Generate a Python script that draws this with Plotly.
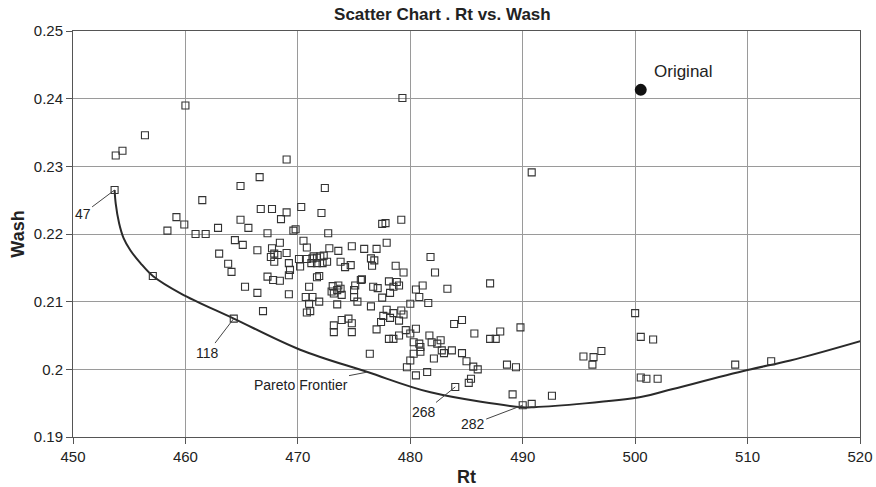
import plotly.graph_objects as go

# ---------------- data ----------------
rt = [453.7, 453.8, 454.4, 456.4, 460.0, 457.1, 458.4, 459.2, 459.9, 460.9,
      461.8, 461.5, 462.9, 463.0, 463.8, 464.1, 464.3, 464.9, 464.4, 465.1,
      464.9, 465.3, 465.6, 466.4, 466.6, 466.7, 467.7, 467.3, 466.4, 466.9,
      469.0, 468.5, 469.0, 467.7, 468.4, 467.9, 468.2, 467.6, 469.0, 467.9,
      469.2, 467.3, 467.8, 468.4, 469.2, 469.3, 469.8, 469.6, 470.3, 470.5,
      470.8, 470.1, 470.8, 470.2, 469.2, 471.3, 471.4, 471.7, 472.0, 472.3,
      471.2, 471.7, 472.2, 472.6, 472.4, 472.1, 472.7, 472.8, 473.6, 474.8,
      475.9, 477.0, 477.5, 477.8, 479.2, 477.9, 473.8, 474.7, 474.2, 476.5,
      476.8, 476.6, 478.7, 479.4, 481.8, 482.2, 471.7, 471.9, 475.7, 478.1,
      478.8, 478.5, 479.0, 480.5, 481.1, 483.3, 471.0, 473.1, 473.6, 473.8,
      473.5, 473.2, 473.0, 473.9, 475.1, 475.0, 475.6, 476.7, 477.1, 470.7,
      471.3, 471.0, 471.9, 471.1, 470.8, 473.5, 475.0, 475.3, 476.5, 477.5,
      478.2, 477.4, 477.6, 477.9, 478.5, 479.2, 479.4, 479.0, 478.2, 480.0,
      480.8, 481.6, 473.2, 473.9, 474.5, 474.8, 473.2, 474.8, 477.0, 478.1,
      478.5, 479.0, 479.6, 480.0, 480.5, 480.3, 480.8, 481.7, 481.9, 482.7,
      482.4, 482.8, 483.0, 480.9, 480.9, 483.9, 484.6, 485.7, 483.7, 484.6,
      485.0, 485.6, 486.0, 482.1, 480.3, 480.0, 479.7, 480.5, 476.4, 481.5,
      485.4, 485.2, 484.0, 488.6, 489.4, 489.1, 492.6, 490.0, 490.8, 487.1,
      487.1, 487.6, 488.0, 489.8, 490.8, 479.3, 500.0, 500.5, 501.6, 495.4,
      496.3, 497.0, 496.2, 500.5, 501.0, 502.0, 508.9, 512.1]
wash = [0.2265, 0.2316, 0.2323, 0.2346, 0.2390, 0.2138, 0.2205, 0.2225, 0.2214, 0.2200,
        0.2200, 0.2250, 0.2209, 0.2171, 0.2156, 0.2144, 0.2075, 0.2221, 0.2191, 0.2184,
        0.2271, 0.2122, 0.2209, 0.2176, 0.2284, 0.2237, 0.2237, 0.2201, 0.2113, 0.2086,
        0.2232, 0.2222, 0.2310, 0.2179, 0.2187, 0.2171, 0.2169, 0.2166, 0.2172, 0.2159,
        0.2157, 0.2137, 0.2132, 0.2131, 0.2139, 0.2147, 0.2207, 0.2205, 0.2240, 0.2190,
        0.2180, 0.2163, 0.2163, 0.2152, 0.2111, 0.2164, 0.2167, 0.2165, 0.2167, 0.2168,
        0.2157, 0.2157, 0.2157, 0.2159, 0.2268, 0.2231, 0.2201, 0.2179, 0.2175, 0.2182,
        0.2178, 0.2178, 0.2215, 0.2216, 0.2221, 0.2187, 0.2159, 0.2154, 0.2151, 0.2164,
        0.2161, 0.2153, 0.2153, 0.2143, 0.2166, 0.2143, 0.2136, 0.2138, 0.2133, 0.2130,
        0.2129, 0.2122, 0.2124, 0.2118, 0.2124, 0.2119, 0.2122, 0.2123, 0.2124, 0.2119,
        0.2117, 0.2112, 0.2115, 0.2110, 0.2124, 0.2117, 0.2132, 0.2122, 0.2120, 0.2107,
        0.2107, 0.2097, 0.2100, 0.2086, 0.2084, 0.2096, 0.2107, 0.2100, 0.2093, 0.2106,
        0.2113, 0.2070, 0.2079, 0.2088, 0.2083, 0.2087, 0.2081, 0.2072, 0.2076, 0.2097,
        0.2107, 0.2098, 0.2065, 0.2073, 0.2075, 0.2068, 0.2055, 0.2055, 0.2059, 0.2045,
        0.2045, 0.2050, 0.2058, 0.2053, 0.2060, 0.2040, 0.2038, 0.2050, 0.2040, 0.2043,
        0.2038, 0.2028, 0.2024, 0.2033, 0.2026, 0.2067, 0.2073, 0.2053, 0.2028, 0.2024,
        0.2012, 0.2004, 0.2000, 0.2016, 0.2023, 0.2013, 0.2003, 0.1991, 0.2023, 0.1996,
        0.1986, 0.1980, 0.1974, 0.2007, 0.2003, 0.1963, 0.1961, 0.1947, 0.1949, 0.2127,
        0.2045, 0.2045, 0.2056, 0.2062, 0.2291, 0.2401, 0.2083, 0.2048, 0.2044, 0.2019,
        0.2018, 0.2027, 0.2007, 0.1988, 0.1986, 0.1986, 0.2007, 0.2012]

original_rt = [500.5]
original_wash = [0.2413]

frontier_rt = [453.7, 453.8, 454.1, 454.5, 455.1, 456.0, 457.1, 459.6, 464.3,
               470.2, 476.2, 481.8, 490.0, 491.0, 500.5, 502.9, 510.0, 513.8, 520.1]
frontier_wash = [0.2265, 0.2245, 0.2216, 0.2194, 0.2176, 0.2157, 0.2138, 0.2112, 0.2075,
                 0.2029, 0.1996, 0.1966, 0.1944, 0.1944, 0.1959, 0.1969, 0.1999, 0.2013, 0.2042]

labelled_names = ["47", "118", "268", "282"]
labelled_index = [0, 16, 172, 177]

x_ticks = [450, 460, 470, 480, 490, 500, 510, 520]
y_ticks = [0.19, 0.20, 0.21, 0.22, 0.23, 0.24, 0.25]
y_tick_labels = ["0.19", "0.2", "0.21", "0.22", "0.23", "0.24", "0.25"]

FONT = "Liberation Sans, Arial, sans-serif"

fig = go.Figure()
fig.add_trace(go.Scatter(x=frontier_rt, y=frontier_wash, mode="lines",
                         line=dict(color="#2a2a2a", width=2, shape="spline", smoothing=1.0),
                         hoverinfo="skip", showlegend=False))
fig.add_trace(go.Scatter(x=rt, y=wash, mode="markers",
                         marker=dict(symbol="square-open", size=7, color="#333333",
                                     line=dict(width=1.1)),
                         showlegend=False))
fig.add_trace(go.Scatter(x=original_rt, y=original_wash, mode="markers",
                         marker=dict(symbol="circle", size=12, color="#111111"),
                         showlegend=False))

annotations = []
label_offsets = [(-32, 24), (-26, 34), (-31, 25), (-50, 19)]
for name, idx, (axo, ayo) in zip(labelled_names, labelled_index, label_offsets):
    annotations.append(dict(x=rt[idx], y=wash[idx], text=name, showarrow=True,
                            arrowhead=0, arrowwidth=1, arrowcolor="#444",
                            ax=axo, ay=ayo, font=dict(size=14, color="#222", family=FONT)))
annotations.append(dict(x=frontier_rt[10], y=frontier_wash[10], text="Pareto Frontier",
                        showarrow=True, arrowhead=0, arrowwidth=1, arrowcolor="#444",
                        ax=-67, ay=13, font=dict(size=14, color="#222", family=FONT)))
annotations.append(dict(x=original_rt[0], y=original_wash[0], text="Original",
                        showarrow=False, xanchor="left", yanchor="middle",
                        xshift=11, yshift=18, font=dict(size=17, color="#222", family=FONT)))

fig.update_layout(
    width=876, height=487,
    margin=dict(l=73, r=16, t=31, b=50),
    paper_bgcolor="white", plot_bgcolor="white",
    font=dict(family=FONT, size=13, color="#222"),
    title=dict(text="<b>Scatter Chart . Rt vs. Wash</b>", x=0.505, xanchor="center",
               y=0.972, yanchor="middle", font=dict(size=17, family=FONT, color="#222")),
    annotations=annotations,
    xaxis=dict(range=[450, 520], tickvals=x_ticks, ticks="outside", ticklen=6,
               tickcolor="#555", showgrid=True, gridcolor="#9a9a9a", gridwidth=1,
               showline=True, linecolor="#555", linewidth=1, mirror=True,
               zeroline=False, tickfont=dict(size=15), automargin=False,
               title=dict(text="<b>Rt</b>", font=dict(size=18), standoff=8)),
    yaxis=dict(range=[0.19, 0.25], tickvals=y_ticks, ticktext=y_tick_labels,
               ticks="outside", ticklen=6, tickcolor="#555", showgrid=True,
               gridcolor="#9a9a9a", gridwidth=1, showline=True, linecolor="#555",
               linewidth=1, mirror=True, zeroline=False, tickfont=dict(size=15),
               automargin=False,
               title=dict(text="<b>Wash</b>", font=dict(size=18), standoff=4)),
)

fig.write_html("out.html", config={"displayModeBar": False},
               post_script="document.body.style.margin='0px';")
